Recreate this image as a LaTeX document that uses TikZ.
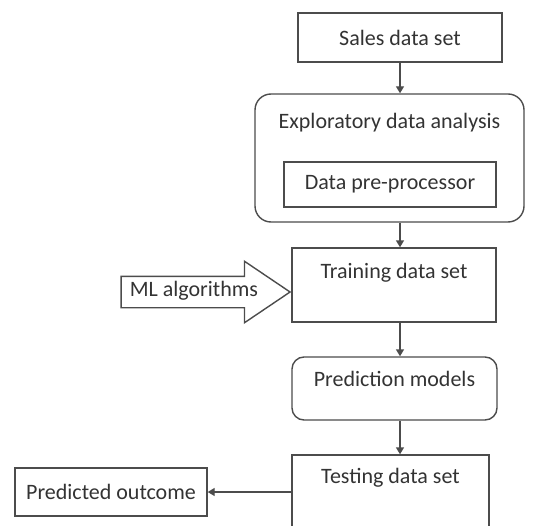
\documentclass[tikz,border=0pt]{standalone}
\usepackage{fontspec}
\setmainfont{Carlito}
\usetikzlibrary{arrows.meta,shapes.arrows}

\definecolor{ink}{gray}{0.2}
\definecolor{edge}{gray}{0.3}

\tikzstyle{block} = [rectangle,draw=edge,line width=1.4pt,inner sep=0pt,text=ink]
\tikzstyle{roundblock} = [block,rounded corners=12pt]
\tikzstyle{flow} = [draw=edge,line width=1.4pt,-{Triangle[width=8pt,length=7pt]}]
\tikzstyle{every node}=[font=\fontsize{22}{26}\selectfont]

\begin{document}
\begin{tikzpicture}[x=1pt,y=1pt]
	\useasboundingbox (0,0) rectangle (534,525);
	\node[block,minimum width=204pt,minimum height=49pt] (sales) at (400,487.5) {Sales data set};
	\node[roundblock,rounded corners=16pt,minimum width=269pt,minimum height=128pt,text height=14pt,text depth=73pt] (eda) at (389.5,367) {Exploratory data analysis};
	\node[block,minimum width=212pt,minimum height=45pt] (prep) at (390,340.5) {Data pre-processor};
	\node[block,minimum width=204pt,minimum height=74pt,text height=14pt,text depth=27pt] (train) at (394,240) {Training data set};
	\node[roundblock,minimum width=205pt,minimum height=63pt,text height=14pt,text depth=18pt] (pred) at (394.5,136.5) {Prediction models};
	\node[block,minimum width=197pt,minimum height=80pt,text height=14pt,text depth=37pt] (test) at (390.5,30) {Testing data set};
	\node[block,minimum width=192pt,minimum height=48pt] (out) at (111,33) {Predicted outcome};
	\node[single arrow,draw=edge,line width=1.4pt,text=ink,inner xsep=8pt,inner ysep=5.5pt,text height=14pt,text depth=5pt,
		single arrow head extend=15pt,single arrow tip angle=68,anchor=tip] (ml) at ([yshift=-7pt]train.west) {ML algorithms};
	\draw[flow] (sales.south) -- (sales.south |- eda.north);
	\draw[flow] (eda.south -| sales) -- (train.north -| sales);
	\draw[flow] (train.south -| sales) -- (pred.north -| sales);
	\draw[flow] (pred.south -| sales) -- (test.north -| sales);
	\draw[flow] (test.west |- out) -- (out.east);
\end{tikzpicture}
\end{document}
